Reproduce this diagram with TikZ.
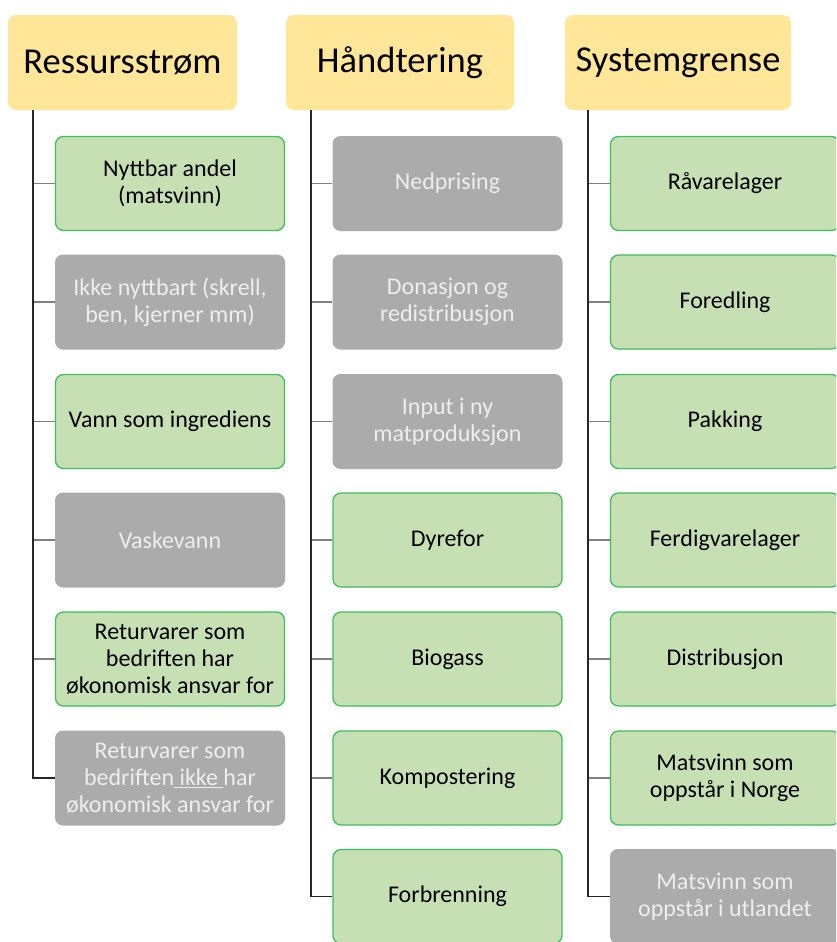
\documentclass[tikz,border=0pt]{standalone}
\usepackage{fontspec}
\setmainfont{Carlito}
\usetikzlibrary{positioning}
\definecolor{headfill}{HTML}{FFE699}
\definecolor{greenfill}{HTML}{C6E0B4}
\definecolor{greenline}{HTML}{3DBE5C}
\definecolor{grayfill}{HTML}{ABABAB}
\definecolor{graytext}{HTML}{EEEEEE}
\begin{document}
\begin{tikzpicture}[x=1pt,y=-1pt,
    head/.style={rectangle,rounded corners=8pt,fill=headfill,minimum height=95pt,align=center,font=\fontsize{36.5}{42}\selectfont},
    gbox/.style={rectangle,rounded corners=8pt,draw=greenline,line width=1.3pt,fill=greenfill,minimum height=94pt,minimum width=229pt,align=center,font=\fontsize{24}{27}\selectfont},
    graybox/.style={rectangle,rounded corners=8pt,fill=grayfill,text=graytext,minimum height=95pt,minimum width=230pt,align=center,font=\fontsize{24}{27}\selectfont},
    trunk/.style={draw=black!85,line width=1.5pt},
    stub/.style={draw=black!50,line width=1.5pt}]
\clip (0,0) rectangle (836,942);
% headers
\node[head,minimum width=229pt] (res) at (122.5,62.5) {Ressursstrøm};
\node[head,minimum width=228pt] (hand) at (400,62.5) {Håndtering};
\node[head,minimum width=226pt] (sys) at (678,62.5) {Systemgrense};
\coordinate (resroot) at (33,110);
\coordinate (handroot) at (311,110);
\coordinate (sysroot) at (588,110);
% Ressursstrøm
\node[gbox] (r1) at (170,183.5) {Nyttbar andel\\(matsvinn)};
\node[graybox] (r2) at (170,302) {Ikke nyttbart (skrell,\\ben, kjerner mm)};
\node[gbox] (r3) at (170,421.5) {Vann som ingrediens};
\node[graybox] (r4) at (170,540) {Vaskevann};
\node[gbox] (r5) at (170,659) {Returvarer som\\bedriften har\\økonomisk ansvar for};
\node[graybox] (r6) at (170,778) {Returvarer som\\bedriften\underline{ ikke }har\\økonomisk ansvar for};
% Håndtering
\node[graybox] (h1) at (447.5,183.5) {Nedprising};
\node[graybox] (h2) at (447.5,302) {Donasjon og\\redistribusjon};
\node[graybox] (h3) at (447.5,421.5) {Input i ny\\matproduksjon};
\node[gbox] (h4) at (447.5,540) {Dyrefor};
\node[gbox] (h5) at (447.5,659) {Biogass};
\node[gbox] (h6) at (447.5,778) {Kompostering};
\node[gbox] (h7) at (447.5,896.5) {Forbrenning};
% Systemgrense
\node[gbox] (s1) at (725,183.5) {Råvarelager};
\node[gbox] (s2) at (725,302) {Foredling};
\node[gbox] (s3) at (725,421.5) {Pakking};
\node[gbox] (s4) at (725,540) {Ferdigvarelager};
\node[gbox] (s5) at (725,659) {Distribusjon};
\node[gbox] (s6) at (725,778) {Matsvinn som\\oppstår i Norge};
\node[graybox] (s7) at (725,896.5) {Matsvinn som\\oppstår i utlandet};
% lines
\draw[stub] (resroot |- r1.west) -- (r1.west); \draw[stub] (resroot |- r2.west) -- (r2.west); \draw[stub] (resroot |- r3.west) -- (r3.west);
\draw[stub] (resroot |- r4.west) -- (r4.west); \draw[stub] (resroot |- r5.west) -- (r5.west);
\draw[trunk] (resroot) |- (r6.west);
\draw[stub] (handroot |- h1.west) -- (h1.west); \draw[stub] (handroot |- h2.west) -- (h2.west); \draw[stub] (handroot |- h3.west) -- (h3.west);
\draw[stub] (handroot |- h4.west) -- (h4.west); \draw[stub] (handroot |- h5.west) -- (h5.west); \draw[stub] (handroot |- h6.west) -- (h6.west);
\draw[trunk] (handroot) |- (h7.west);
\draw[stub] (sysroot |- s1.west) -- (s1.west); \draw[stub] (sysroot |- s2.west) -- (s2.west); \draw[stub] (sysroot |- s3.west) -- (s3.west);
\draw[stub] (sysroot |- s4.west) -- (s4.west); \draw[stub] (sysroot |- s5.west) -- (s5.west); \draw[stub] (sysroot |- s6.west) -- (s6.west);
\draw[trunk] (sysroot) |- (s7.west);
\end{tikzpicture}
\end{document}
